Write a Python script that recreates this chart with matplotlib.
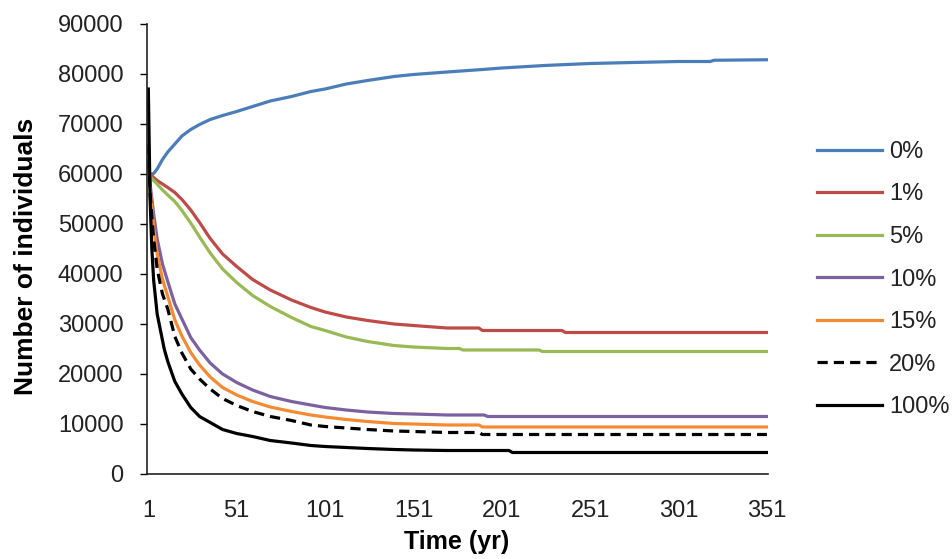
import matplotlib
matplotlib.use("Agg")
import matplotlib.pyplot as plt

plt.rcParams['font.family'] = ['Liberation Sans', 'DejaVu Sans']

labels = ["0%", "1%", "5%", "10%", "15%", "20%", "100%"]

t_0 = [1, 2, 4, 6, 9, 12, 16, 20, 25, 30, 36, 43, 51, 60, 70, 82, 93, 101, 113, 125,
       140, 151, 170, 190, 201, 225, 251, 275, 301, 319, 321, 351]
v_0 = [60500, 59900, 60100, 61000, 62900, 64400, 66000, 67600, 68900, 69900, 70900,
       71700, 72500, 73500, 74600, 75500, 76500, 77000, 78000, 78700, 79500, 79900,
       80400, 80900, 81200, 81700, 82100, 82300, 82500, 82500, 82750, 82850]

t_1 = [1, 2, 4, 6, 9, 12, 16, 20, 25, 30, 36, 43, 51, 60, 70, 82, 93, 101, 113, 125,
       140, 151, 170, 188, 190, 235, 237, 351]
v_1 = [61000, 60000, 59300, 58700, 58000, 57300, 56300, 54900, 52800, 50300, 47100,
       44000, 41500, 38900, 36800, 34800, 33300, 32400, 31400, 30700, 30000, 29700,
       29200, 29200, 28700, 28700, 28300, 28300]

t_5 = [1, 2, 4, 6, 9, 12, 16, 20, 25, 30, 36, 43, 51, 60, 70, 82, 93, 101, 113, 125,
       140, 151, 170, 177, 179, 222, 224, 351]
v_5 = [61000, 59500, 58700, 58000, 56800, 55800, 54500, 52700, 50200, 47400, 44200,
       41000, 38300, 35700, 33500, 31300, 29500, 28700, 27400, 26500, 25700, 25400,
       25100, 25100, 24800, 24800, 24500, 24500]

t_10 = [1, 2, 4, 6, 9, 12, 16, 20, 25, 30, 36, 43, 51, 60, 70, 82, 93, 101, 113, 125,
        140, 151, 170, 191, 193, 351]
v_10 = [63000, 58000, 52000, 47000, 42000, 38500, 34000, 31000, 27300, 24800, 22200,
        20000, 18300, 16800, 15500, 14500, 13800, 13300, 12800, 12400, 12100, 12000,
        11800, 11800, 11500, 11500]

t_15 = [1, 2, 4, 6, 9, 12, 16, 20, 25, 30, 36, 43, 51, 60, 70, 82, 93, 101, 113, 125,
        140, 151, 170, 188, 190, 351]
v_15 = [64000, 57000, 49500, 44000, 39000, 35500, 30800, 27600, 24300, 21800, 19400,
        17300, 15800, 14500, 13400, 12500, 11800, 11400, 10900, 10500, 10100, 10000,
        9800, 9800, 9400, 9400]

t_20 = [1, 2, 4, 6, 9, 12, 16, 20, 25, 30, 36, 43, 51, 60, 70, 82, 93, 101, 113, 125,
        140, 151, 170, 188, 190, 351]
v_20 = [66000, 56000, 47000, 41000, 36000, 33000, 27500, 24200, 21000, 19000, 17000,
        15100, 13700, 12500, 11500, 10700, 9800, 9500, 9200, 8900, 8600, 8500,
        8300, 8300, 7900, 7900]

t_100 = [1, 2, 3, 4, 6, 8, 10, 12, 16, 20, 25, 30, 36, 43, 51, 60, 70, 82, 93, 101,
         113, 125, 140, 151, 170, 205, 207, 351]
v_100 = [77000, 55000, 45000, 38800, 32000, 28500, 25000, 22500, 18500, 16000, 13300,
         11500, 10300, 8900, 8100, 7500, 6700, 6200, 5700, 5500, 5300, 5100, 4900,
         4800, 4700, 4700, 4300, 4300]

x_ticks = [1, 51, 101, 151, 201, 251, 301, 351]
y_ticks = list(range(0, 90001, 10000))

series_t = [t_0, t_1, t_5, t_10, t_15, t_20, t_100]
series_v = [v_0, v_1, v_5, v_10, v_15, v_20, v_100]
colors = ["#4A7EBB", "#BE4B48", "#98B954", "#7D60A0", "#F58A32", "black", "black"]
styles = ["-", "-", "-", "-", "-", (0, (3.2, 1.9)), "-"]

W, H = 953, 559
fig = plt.figure(figsize=(W / 100, H / 100), dpi=100)
ax = fig.add_axes([147 / W, 1 - 474 / H, (768 - 147) / W, (474 - 24) / H])

for t, v, c, s, lab in zip(series_t, series_v, colors, styles, labels):
    ax.plot(t, v, color=c, linestyle=s, linewidth=2.3, label=lab, solid_joinstyle='round')

ax.set_xlim(0.25, 351.6)
ax.set_ylim(0, 90000)
ax.set_xticks(x_ticks)
ax.set_yticks(y_ticks)
ax.tick_params(axis='x', length=0, pad=19, labelsize=17, colors='#222222')
ax.tick_params(axis='y', direction='out', length=5, width=1, pad=12, labelsize=17,
               labelcolor='#222222')
for sp in ['top', 'right']:
    ax.spines[sp].set_visible(False)
for sp in ['left', 'bottom']:
    ax.spines[sp].set_linewidth(1.2)
    ax.spines[sp].set_color('#222222')

ax.set_ylabel("Number of individuals", fontsize=19, fontweight='bold')
ax.yaxis.set_label_coords(-0.176, 0.484)
ax.set_xlabel("Time (yr)", fontsize=18, fontweight='bold')
ax.xaxis.set_label_coords(0.498, -0.124)

leg = fig.legend(loc='center left', bbox_to_anchor=(817 / W, 1 - 279.5 / H),
                 frameon=False, fontsize=17, borderpad=0, borderaxespad=0,
                 handlelength=2.75, handletextpad=0.3, labelspacing=0.87)
for txt in leg.get_texts():
    txt.set_color('#222222')

fig.savefig("out.png", dpi=100)
